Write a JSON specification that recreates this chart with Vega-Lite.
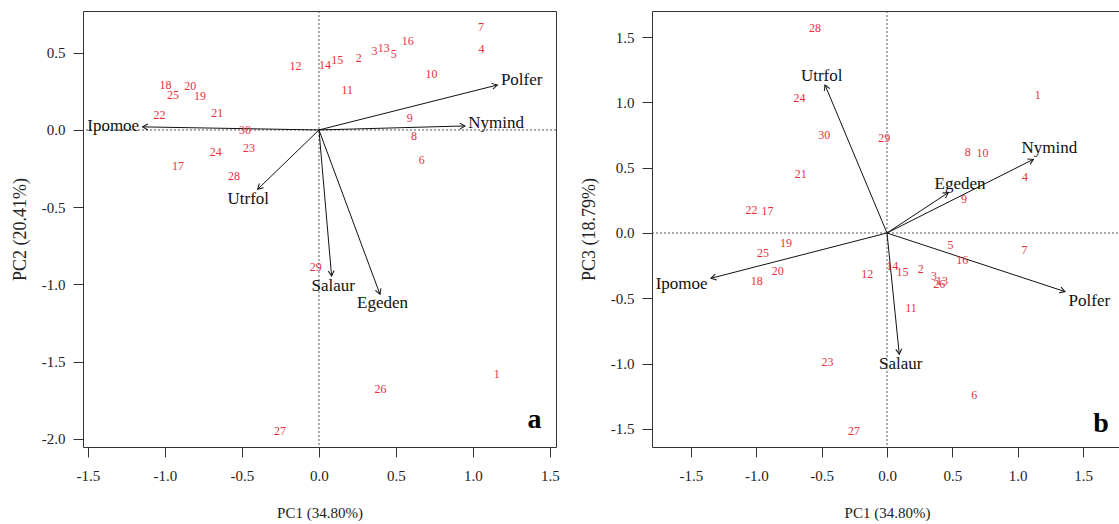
{
  "$schema": "https://vega.github.io/schema/vega-lite/v6.json",
  "padding": {"left": 10, "top": 10, "right": 0, "bottom": 0},
  "background": "white",
  "bounds": "flush",
  "spacing": 96,
  "config": {
    "view": {"stroke": "#333", "strokeWidth": 1},
    "axis": {
      "grid": false, "domain": false, "tickColor": "#333", "tickSize": 10,
      "labelFont": "Liberation Serif", "labelFontSize": 15, "labelColor": "#222",
      "titleFont": "Liberation Serif", "titleFontWeight": "normal", "titleColor": "#222",
      "labelExpr": "replace(format(datum.value, '.1f'), '\u2212', '-')"
    },
    "axisX": {"labelPadding": 11, "titlePadding": 22, "titleFontSize": 15, "labelFlush": false},
    "axisY": {"labelPadding": 8, "titlePadding": 12, "titleFontSize": 18, "minExtent": 42, "maxExtent": 42}
  },
  "datasets": {
    "scores": [
      {"id": "1", "PC1": 1.154, "PC2": -1.58, "PC3": 1.054},
      {"id": "2", "PC1": 0.259, "PC2": 0.464, "PC3": -0.273},
      {"id": "3", "PC1": 0.36, "PC2": 0.511, "PC3": -0.329},
      {"id": "4", "PC1": 1.055, "PC2": 0.526, "PC3": 0.429},
      {"id": "5", "PC1": 0.485, "PC2": 0.49, "PC3": -0.094},
      {"id": "6", "PC1": 0.668, "PC2": -0.196, "PC3": -1.24},
      {"id": "7", "PC1": 1.052, "PC2": 0.667, "PC3": -0.133},
      {"id": "8", "PC1": 0.617, "PC2": -0.039, "PC3": 0.623},
      {"id": "9", "PC1": 0.59, "PC2": 0.08, "PC3": 0.258},
      {"id": "10", "PC1": 0.73, "PC2": 0.36, "PC3": 0.61},
      {"id": "11", "PC1": 0.184, "PC2": 0.257, "PC3": -0.572},
      {"id": "12", "PC1": -0.152, "PC2": 0.414, "PC3": -0.317},
      {"id": "13", "PC1": 0.42, "PC2": 0.533, "PC3": -0.368},
      {"id": "14", "PC1": 0.04, "PC2": 0.42, "PC3": -0.253},
      {"id": "15", "PC1": 0.118, "PC2": 0.453, "PC3": -0.299},
      {"id": "16", "PC1": 0.576, "PC2": 0.576, "PC3": -0.209},
      {"id": "17", "PC1": -0.915, "PC2": -0.233, "PC3": 0.168},
      {"id": "18", "PC1": -0.996, "PC2": 0.291, "PC3": -0.368},
      {"id": "19", "PC1": -0.773, "PC2": 0.22, "PC3": -0.074},
      {"id": "20", "PC1": -0.835, "PC2": 0.285, "PC3": -0.291},
      {"id": "21", "PC1": -0.66, "PC2": 0.112, "PC3": 0.449},
      {"id": "22", "PC1": -1.036, "PC2": 0.1, "PC3": 0.174},
      {"id": "23", "PC1": -0.455, "PC2": -0.114, "PC3": -0.985},
      {"id": "24", "PC1": -0.67, "PC2": -0.14, "PC3": 1.031},
      {"id": "25", "PC1": -0.948, "PC2": 0.224, "PC3": -0.156},
      {"id": "26", "PC1": 0.399, "PC2": -1.674, "PC3": -0.393},
      {"id": "27", "PC1": -0.253, "PC2": -1.948, "PC3": -1.516},
      {"id": "28", "PC1": -0.551, "PC2": -0.298, "PC3": 1.567},
      {"id": "29", "PC1": -0.021, "PC2": -0.887, "PC3": 0.725},
      {"id": "30", "PC1": -0.48, "PC2": 0.0, "PC3": 0.748}
    ],
    "loadA": [
      {"var": "Polfer", "x": 1.158, "y": 0.291, "lx": 1.316, "ly": 0.324},
      {"var": "Nymind", "x": 0.948, "y": 0.026, "lx": 1.15, "ly": 0.047},
      {"var": "Ipomoe", "x": -1.145, "y": 0.02, "lx": -1.336, "ly": 0.026},
      {"var": "Utrfol", "x": -0.398, "y": -0.384, "lx": -0.459, "ly": -0.444},
      {"var": "Salaur", "x": 0.082, "y": -0.945, "lx": 0.093, "ly": -1.01},
      {"var": "Egeden", "x": 0.396, "y": -1.063, "lx": 0.413, "ly": -1.118}
    ],
    "loadB": [
      {"var": "Utrfol", "x": -0.474, "y": 1.133, "lx": -0.5, "ly": 1.202},
      {"var": "Nymind", "x": 1.12, "y": 0.564, "lx": 1.242, "ly": 0.653},
      {"var": "Egeden", "x": 0.469, "y": 0.309, "lx": 0.559, "ly": 0.378},
      {"var": "Polfer", "x": 1.362, "y": -0.449, "lx": 1.548, "ly": -0.52},
      {"var": "Ipomoe", "x": -1.347, "y": -0.347, "lx": -1.571, "ly": -0.393},
      {"var": "Salaur", "x": 0.094, "y": -0.929, "lx": 0.105, "ly": -1.0}
    ]
  },
  "hconcat": [
    {
      "width": 473,
      "height": 436,
      "layer": [
        {
          "data": {"values": [{"v": 0}]},
          "mark": {"type": "rule", "color": "#555", "strokeDash": [2, 2], "strokeWidth": 1},
          "encoding": {
            "x": {"field": "v", "type": "quantitative", "title": "PC1 (34.80%)",
              "scale": {"domain": [-1.532, 1.539], "nice": false, "zero": false},
              "axis": {"values": [-1.5, -1, -0.5, 0, 0.5, 1, 1.5]}}
          }
        },
        {
          "data": {"values": [{"v": 0}]},
          "mark": {"type": "rule", "color": "#555", "strokeDash": [2, 2], "strokeWidth": 1},
          "encoding": {
            "y": {"field": "v", "type": "quantitative", "title": "PC2 (20.41%)",
              "scale": {"domain": [-2.052, 0.77], "nice": false, "zero": false},
              "axis": {"values": [-2, -1.5, -1, -0.5, 0, 0.5]}}
          }
        },
        {
          "data": {"name": "loadA"},
          "mark": {"type": "rule", "color": "#111", "strokeWidth": 1},
          "encoding": {
            "x": {"field": "x", "type": "quantitative", "title": "PC1 (34.80%)"},
            "y": {"field": "y", "type": "quantitative", "title": "PC2 (20.41%)"},
            "x2": {"datum": 0},
            "y2": {"datum": 0}
          }
        },
        {
          "data": {"name": "loadA"},
          "transform": [{"calculate": "atan2(datum.x, datum.y) * 180 / PI", "as": "ang"}],
          "mark": {"type": "point", "shape": "M-0.5,0.87L0,0L0.5,0.87", "filled": false, "size": 144, "strokeWidth": 1, "color": "#111", "opacity": 1},
          "encoding": {
            "x": {"field": "x", "type": "quantitative", "title": "PC1 (34.80%)"},
            "y": {"field": "y", "type": "quantitative", "title": "PC2 (20.41%)"},
            "angle": {"field": "ang", "type": "quantitative", "scale": null}
          }
        },
        {
          "data": {"name": "loadA"},
          "mark": {"type": "text", "font": "Liberation Serif", "fontSize": 17, "color": "#111"},
          "encoding": {
            "x": {"field": "lx", "type": "quantitative", "title": "PC1 (34.80%)"},
            "y": {"field": "ly", "type": "quantitative", "title": "PC2 (20.41%)"},
            "text": {"field": "var"}
          }
        },
        {
          "data": {"name": "scores"},
          "mark": {"type": "text", "font": "Liberation Serif", "fontSize": 12, "color": "#e8303c"},
          "encoding": {
            "x": {"field": "PC1", "type": "quantitative", "title": "PC1 (34.80%)"},
            "y": {"field": "PC2", "type": "quantitative", "title": "PC2 (20.41%)"},
            "text": {"field": "id"}
          }
        },
        {
          "data": {"values": [{"lab": "a", "x": 1.4, "y": -1.93}]},
          "mark": {"type": "text", "font": "Liberation Serif", "fontSize": 28, "fontWeight": "bold", "color": "#000", "baseline": "alphabetic"},
          "encoding": {
            "x": {"field": "x", "type": "quantitative", "title": "PC1 (34.80%)"},
            "y": {"field": "y", "type": "quantitative", "title": "PC2 (20.41%)"},
            "text": {"field": "lab"}
          }
        }
      ]
    },
    {
      "width": 470,
      "height": 436,
      "layer": [
        {
          "data": {"values": [{"v": 0}]},
          "mark": {"type": "rule", "color": "#555", "strokeDash": [2, 2], "strokeWidth": 1},
          "encoding": {
            "x": {"field": "v", "type": "quantitative", "title": "PC1 (34.80%)",
              "scale": {"domain": [-1.798, 1.798], "nice": false, "zero": false},
              "axis": {"values": [-1.5, -1, -0.5, 0, 0.5, 1, 1.5]}}
          }
        },
        {
          "data": {"values": [{"v": 0}]},
          "mark": {"type": "rule", "color": "#555", "strokeDash": [2, 2], "strokeWidth": 1},
          "encoding": {
            "y": {"field": "v", "type": "quantitative", "title": "PC3 (18.79%)",
              "scale": {"domain": [-1.639, 1.7], "nice": false, "zero": false},
              "axis": {"values": [-1.5, -1, -0.5, 0, 0.5, 1, 1.5]}}
          }
        },
        {
          "data": {"name": "loadB"},
          "mark": {"type": "rule", "color": "#111", "strokeWidth": 1},
          "encoding": {
            "x": {"field": "x", "type": "quantitative", "title": "PC1 (34.80%)"},
            "y": {"field": "y", "type": "quantitative", "title": "PC3 (18.79%)"},
            "x2": {"datum": 0},
            "y2": {"datum": 0}
          }
        },
        {
          "data": {"name": "loadB"},
          "transform": [{"calculate": "atan2(datum.x, datum.y) * 180 / PI", "as": "ang"}],
          "mark": {"type": "point", "shape": "M-0.5,0.87L0,0L0.5,0.87", "filled": false, "size": 144, "strokeWidth": 1, "color": "#111", "opacity": 1},
          "encoding": {
            "x": {"field": "x", "type": "quantitative", "title": "PC1 (34.80%)"},
            "y": {"field": "y", "type": "quantitative", "title": "PC3 (18.79%)"},
            "angle": {"field": "ang", "type": "quantitative", "scale": null}
          }
        },
        {
          "data": {"name": "loadB"},
          "mark": {"type": "text", "font": "Liberation Serif", "fontSize": 17, "color": "#111"},
          "encoding": {
            "x": {"field": "lx", "type": "quantitative", "title": "PC1 (34.80%)"},
            "y": {"field": "ly", "type": "quantitative", "title": "PC3 (18.79%)"},
            "text": {"field": "var"}
          }
        },
        {
          "data": {"name": "scores"},
          "mark": {"type": "text", "font": "Liberation Serif", "fontSize": 12, "color": "#e8303c"},
          "encoding": {
            "x": {"field": "PC1", "type": "quantitative", "title": "PC1 (34.80%)"},
            "y": {"field": "PC3", "type": "quantitative", "title": "PC3 (18.79%)"},
            "text": {"field": "id"}
          }
        },
        {
          "data": {"values": [{"lab": "b", "x": 1.637, "y": -1.524}]},
          "mark": {"type": "text", "font": "Liberation Serif", "fontSize": 28, "fontWeight": "bold", "color": "#000", "baseline": "alphabetic"},
          "encoding": {
            "x": {"field": "x", "type": "quantitative", "title": "PC1 (34.80%)"},
            "y": {"field": "y", "type": "quantitative", "title": "PC3 (18.79%)"},
            "text": {"field": "lab"}
          }
        }
      ]
    }
  ]
}
